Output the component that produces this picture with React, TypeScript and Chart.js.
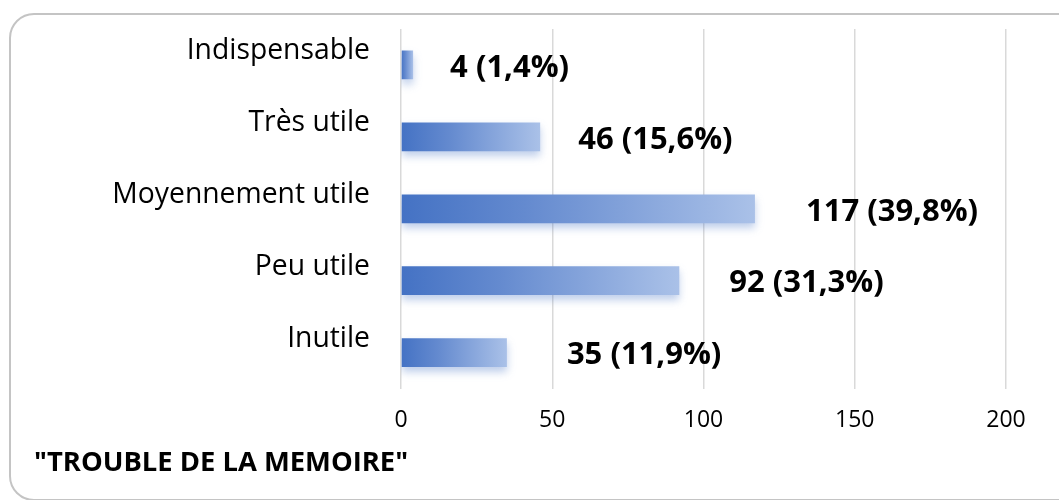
import React, { useEffect, useRef } from "react";
import { Chart, registerables } from "chart.js";

Chart.register(...registerables);

const categories = ["Indispensable", "Très utile", "Moyennement utile", "Peu utile", "Inutile"];
const counts = [4, 46, 117, 92, 35];
const percentLabels = ["1,4%", "15,6%", "39,8%", "31,3%", "11,9%"];
const labelNudge = [37, 38, 51, 50, 60];
const xTicks = [0, 50, 100, 150, 200];
const chartTitle = '"TROUBLE DE LA MEMOIRE"';

const FONT = "'Open Sans', 'Noto Sans', sans-serif";

const barLabelPlugin = {
  id: "barLabels",
  beforeDatasetsDraw(chart: any) {
    const ctx = chart.ctx;
    ctx.save();
    ctx.shadowColor = "rgba(68,114,196,0.35)";
    ctx.shadowBlur = 8;
    ctx.shadowOffsetX = 0;
    ctx.shadowOffsetY = 5;
  },
  afterDatasetsDraw(chart: any) {
    const ctx = chart.ctx;
    ctx.restore();
    const meta = chart.getDatasetMeta(0);
    ctx.save();
    ctx.font = `bold 31px ${FONT}`;
    ctx.fillStyle = "#000000";
    ctx.textAlign = "left";
    ctx.textBaseline = "middle";
    meta.data.forEach((el: any, i: number) => {
      ctx.fillText(`${counts[i]} (${percentLabels[i]})`, el.x + labelNudge[i], el.y + 3);
    });
    ctx.restore();
  },
};

export default function App() {
  const ref = useRef<HTMLCanvasElement | null>(null);

  useEffect(() => {
    if (!ref.current) return;
    const chart = new Chart(ref.current, {
      type: "bar",
      data: {
        labels: categories,
        datasets: [
          {
            data: counts,
            categoryPercentage: 1,
            barPercentage: 0.4,
            backgroundColor: (c: any) => {
              const ch = c.chart;
              const xs = ch.scales?.x;
              if (!xs || c.dataIndex === undefined) return "#4472C4";
              const left = xs.getPixelForValue(0);
              const right = xs.getPixelForValue(counts[c.dataIndex]);
              if (!Number.isFinite(left) || !Number.isFinite(right)) return "#4472C4";
              const g = ch.ctx.createLinearGradient(left, 0, Math.max(right, left + 1), 0);
              g.addColorStop(0, "#4472C4");
              g.addColorStop(0.35, "#648ACF");
              g.addColorStop(1, "#AAC1E8");
              return g;
            },
            borderWidth: 0,
          },
        ],
      },
      options: {
        indexAxis: "y",
        responsive: false,
        animation: false,
        events: [],
        layout: { padding: { left: 34, right: 53, top: 29, bottom: 20 } },
        plugins: {
          legend: { display: false },
          tooltip: { enabled: false },
          title: {
            display: true,
            text: chartTitle,
            position: "bottom",
            align: "start",
            color: "#000000",
            font: { family: FONT, size: 27.4, weight: "bold", lineHeight: 1.2 },
            padding: { top: 0, bottom: 0 },
          },
        },
        scales: {
          x: {
            min: 0,
            max: 200,
            afterBuildTicks: (s: any) => {
              s.ticks = xTicks.map((v) => ({ value: v }));
            },
            afterFit: (s: any) => {
              s.height = 58.6;
            },
            grid: { color: "#D9D9D9", lineWidth: 1.5, drawTicks: false },
            border: { display: false },
            ticks: {
              color: "#000000",
              padding: 18,
              font: { family: FONT, size: 23 },
            },
          },
          y: {
            afterFit: (s: any) => {
              s.width = 367;
              s.paddingTop = 0;
              s.paddingBottom = 0;
            },
            grid: { display: false, drawTicks: false },
            border: { display: false },
            ticks: {
              color: "#000000",
              padding: 31,
              labelOffset: -14,
              font: { family: FONT, size: 28.3 },
            },
          },
        },
      },
      plugins: [barLabelPlugin],
    } as any);
    chart.update();
    return () => chart.destroy();
  }, []);

  return (
    <div style={{ position: "fixed", left: 0, top: 0, width: 1059, height: 500, overflow: "hidden", background: "#ffffff" }}>
      <div
        style={{
          position: "absolute",
          left: 9,
          top: 13,
          width: 1080,
          height: 488,
          border: "2px solid #C4C4C4",
          borderRadius: 25,
          boxSizing: "border-box",
        }}
      />
      <canvas ref={ref} width={1059} height={500} style={{ position: "absolute", left: 0, top: 0, width: 1059, height: 500 }} />
    </div>
  );
}
